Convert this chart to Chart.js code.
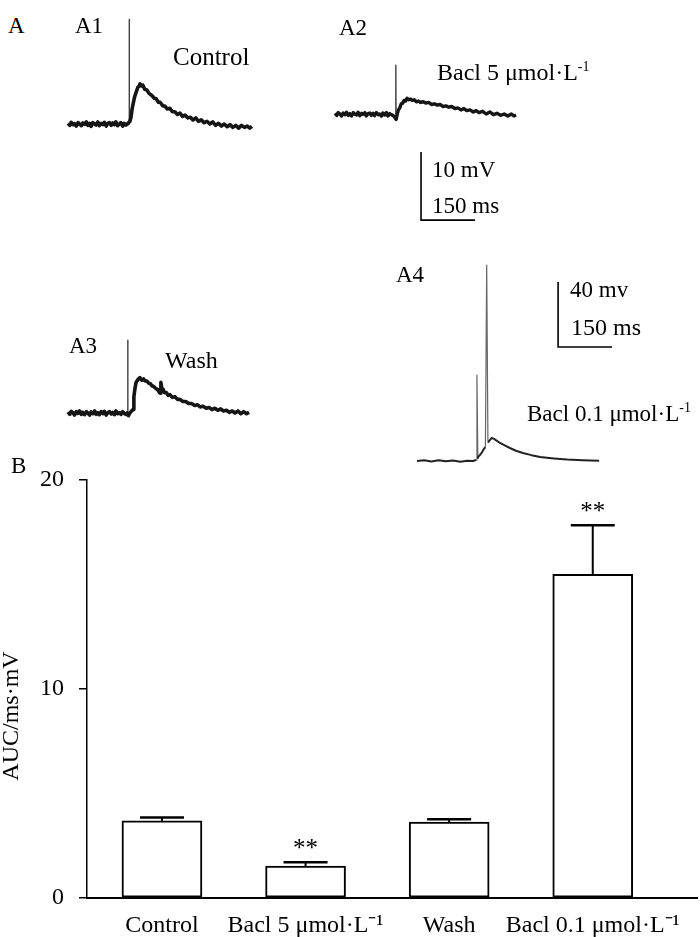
<!DOCTYPE html>
<html><head><meta charset="utf-8">
<script src="https://cdn.jsdelivr.net/npm/chart.js@4.4.0/dist/chart.umd.min.js"></script>
<style>
html,body{margin:0;padding:0;background:#fff;}
#page{position:relative;width:700px;height:937px;overflow:hidden;background:#fff;}
canvas{position:absolute;}
.t{position:absolute;font-family:'Liberation Serif','Times New Roman',serif;color:#000;line-height:1;white-space:nowrap;}
.sup{font-size:14px;line-height:0;vertical-align:9px;}
</style></head>
<body><div id="page">
<canvas id="cB" width="700" height="477" style="left:0;top:460px"></canvas>
<canvas id="cA1"></canvas>
<canvas id="cA2"></canvas>
<canvas id="cA3"></canvas>
<canvas id="cA4"></canvas>
<div class="t" style="left:8px;top:14px;font-size:23px">A</div>
<div class="t" style="left:75px;top:14px;font-size:23px">A1</div>
<div class="t" style="left:173px;top:44.1px;font-size:25px">Control</div>
<div class="t" style="left:339px;top:16px;font-size:23px">A2</div>
<div class="t" style="left:437px;top:59.9px;font-size:24px">Bacl 5 μmol·L<span class="sup">-1</span></div>
<div class="t" style="left:432px;top:157.7px;font-size:23px">10 mV</div>
<div class="t" style="left:432px;top:193.7px;font-size:23px">150 ms</div>
<div class="t" style="left:69px;top:334px;font-size:23px">A3</div>
<div class="t" style="left:165px;top:347.9px;font-size:24px">Wash</div>
<div class="t" style="left:396px;top:263px;font-size:23px">A4</div>
<div class="t" style="left:570px;top:277.7px;font-size:23px">40 mv</div>
<div class="t" style="left:571px;top:314.9px;font-size:24px">150 ms</div>
<div class="t" style="left:527px;top:401.7px;font-size:23px">Bacl 0.1 μmol·L<span class="sup">-1</span></div>
<div class="t" style="left:11px;top:454px;font-size:23px">B</div>
</div>
<script>
// ---------- Panel B data ----------
const categories = ['Control', 'Bacl 5 μmol·L⁻¹', 'Wash', 'Bacl 0.1 μmol·L⁻¹'];
const aucMean = [3.69, 1.53, 3.63, 15.49];
const aucSem = [0.16, 0.18, 0.14, 2.34];
const aucSig = ['', '**', '', '**'];
const yTicks = [0, 10, 20];
const yTitleText = 'AUC/ms·mV';

// ---------- Panel A traces (time in ms, membrane potential in mV relative to baseline) ----------
const a1T = [0,5,9,14,18,23,28,32,37,41,46,51,55,60,64,69,74,78,83,87,92,97,101,106,110,115,120,124,129,133,138,143,147,152,156,161,165,
  172,175,178,181,185,189,194,197,200,204,208,213,219,225,233,239,245,251,256,263,270,276,283,290,297,304,311,318,325,333,340,347,355,362,370,378,386,394,402,410,418,426,434,442,450,458,466,474,482,490,498,505,511];
const a1V = [0.1,-0.2,0.25,-0.1,0.05,-0.3,0.2,0.0,-0.25,0.15,-0.05,0.3,-0.2,0.1,-0.35,0.2,0.0,-0.15,0.3,-0.25,0.1,-0.1,0.25,-0.3,0.05,0.2,-0.2,0.15,-0.1,0.3,-0.25,0.0,0.2,-0.3,0.1,-0.15,0.0,
  0.4,1.0,2.2,3.0,4.0,4.6,5.4,5.5,5.9,5.6,5.7,5.1,5.0,4.5,4.2,3.8,3.7,3.2,3.2,2.7,2.6,2.2,2.3,1.8,1.8,1.4,1.6,1.1,1.3,0.9,1.0,0.6,0.9,0.4,0.6,0.2,0.4,0.0,0.3,-0.2,0.1,-0.3,0.0,-0.4,-0.1,-0.5,-0.2,-0.6,-0.2,-0.5,-0.3,-0.6,-0.35];
const a1SpikeT = [169.5, 170, 170.5];
const a1SpikeV = [0, 15.4, 0];

const a2T = [0,5,9,14,18,23,28,32,37,41,46,51,55,60,64,69,74,78,83,87,92,97,101,106,110,115,120,124,129,133,138,143,147,152,156,161,166,170,173,176,180,184,188,192,196,200,205,210,215,220,226,232,238,245,252,260,268,276,284,292,300,308,316,324,333,341,350,358,366,375,384,392,400,410,420,430,440,450,460,470,480,490,497,503];
const a2V = [0.1,-0.2,0.2,0.0,-0.3,0.15,-0.1,0.25,-0.2,0.05,-0.3,0.2,0.0,-0.15,0.25,-0.25,0.1,-0.05,0.2,-0.3,0.05,0.15,-0.2,0.1,-0.25,0.2,-0.1,0.0,-0.3,0.15,-0.15,0.2,-0.3,0.05,-0.1,-0.2,-0.5,-0.8,0.0,0.6,0.9,1.5,1.6,2.0,1.9,2.3,2.1,2.2,2.0,2.1,1.8,1.9,1.7,1.8,1.6,1.7,1.4,1.5,1.3,1.4,1.1,1.2,1.0,1.1,0.8,0.9,0.6,0.8,0.5,0.6,0.3,0.5,0.2,0.4,0.0,0.3,-0.1,0.1,-0.2,0.0,-0.3,0.0,-0.3,-0.15];
const a2SpikeT = [168.5, 169, 169.5];
const a2SpikeV = [0, 7.2, 0];

const a3T = [0,5,9,14,18,23,28,32,37,41,46,51,55,60,64,69,74,78,83,87,92,97,101,106,110,115,120,124,129,133,138,143,147,152,156,161,164,168,172,178,181,183,186,189,194,200,205,210,214,219,224,229,233,238,244,250,254,256,258,261,264,268,273,278,283,290,297,304,311,319,327,335,343,352,360,367,375,384,392,400,408,416,424,432,440,448,456,464,472,480,488,496,503];
const a3V = [0.15,-0.2,0.25,0.0,-0.3,0.2,-0.05,0.3,-0.2,0.1,-0.25,0.2,0.0,-0.3,0.15,-0.1,0.3,-0.2,0.05,-0.25,0.2,-0.1,0.25,-0.3,0.0,0.2,-0.15,0.1,-0.25,0.3,-0.1,0.05,-0.2,0.2,-0.05,-0.2,0.0,-0.4,0.0,0.4,0.5,2.4,3.6,4.5,4.9,5.2,4.8,5.0,4.7,4.7,4.4,4.3,4.0,3.9,3.6,3.4,3.0,2.9,4.5,3.4,3.5,3.0,3.0,2.6,2.7,2.3,2.4,2.0,2.0,1.7,1.7,1.4,1.4,1.1,1.2,0.9,1.0,0.7,0.8,0.5,0.7,0.4,0.6,0.3,0.4,0.1,0.3,0.0,0.3,-0.1,0.2,-0.1,0.1];
const a3SpikeT = [165.5, 166, 166.5];
const a3SpikeV = [0, 10.7, 0];

const a4T = [0,20,40,60,80,100,120,140,155,164,166.5,169,170,176,181,186,190,193.6,197,198,203,207.5,215,230.5,245,258,275,294,318,342,380,417,460,506];
const a4V = [0,0.5,-0.3,0.4,-0.2,0.3,-0.4,0.2,0,0.6,52.9,1.5,2.5,4,5.5,7.5,8.6,120.6,12,11.7,13,14.2,13.5,11.1,9.5,8.0,6.3,4.9,3.6,2.5,1.6,0.9,0.5,0.2];

// scale bars (ms, mV)
const bar1T = [239, 239, 389];
const bar1V = [-5.6, -15.6, -15.6];
const bar2T = [392, 392, 542];
const bar2V = [110.2, 70.2, 70.2];

// ---------- helpers ----------
const FONT = "'Liberation Serif','Times New Roman',serif";
function series(ts, vs, color, width, extra) {
  return Object.assign({
    data: ts.map((t, i) => ({x: t, y: vs[i]})),
    showLine: true, pointRadius: 0, borderColor: color, borderWidth: width,
    tension: 0, clip: false, borderJoinStyle: 'round', borderCapStyle: 'butt'
  }, extra || {});
}
function traceChart(id, box, origin, pxPerMs, pxPerMv, datasets) {
  const cv = document.getElementById(id);
  cv.width = box.w; cv.height = box.h;
  cv.style.left = box.l + 'px'; cv.style.top = box.t + 'px';
  new Chart(cv, {
    type: 'scatter',
    data: {datasets},
    options: {
      responsive: false, animation: false, devicePixelRatio: 1,
      layout: {padding: 0},
      plugins: {legend: {display: false}, tooltip: {enabled: false}},
      scales: {
        x: {type: 'linear', display: false, bounds: 'data',
            min: (box.l - origin.x) / pxPerMs, max: (box.l + box.w - origin.x) / pxPerMs},
        y: {type: 'linear', display: false, bounds: 'data',
            min: (origin.y - box.t - box.h) / pxPerMv, max: (origin.y - box.t) / pxPerMv}
      }
    }
  });
}
const TR = '#151515', SP = '#333';
traceChart('cA1', {l: 60, t: 8, w: 200, h: 130}, {x: 68, y: 124}, 0.36, 6.8, [
  series(a1T, a1V, TR, 3.6), series(a1SpikeT, a1SpikeV, SP, 1.3)]);
traceChart('cA2', {l: 328, t: 55, w: 200, h: 175}, {x: 335, y: 114}, 0.36, 6.8, [
  series(a2T, a2V, TR, 3.4), series(a2SpikeT, a2SpikeV, SP, 1.3), series(bar1T, bar1V, '#000', 1.6, {borderJoinStyle: 'miter'})]);
traceChart('cA3', {l: 60, t: 330, w: 200, h: 100}, {x: 68, y: 413}, 0.36, 6.8, [
  series(a3T, a3V, TR, 3.6), series(a3SpikeT, a3SpikeV, SP, 1.3)]);
traceChart('cA4', {l: 410, t: 255, w: 215, h: 215}, {x: 417, y: 461}, 0.36, 1.625, [
  series(a4T, a4V, '#222', 2, {segment: {
    borderWidth: c => (c.p0.parsed.y > 20 || c.p1.parsed.y > 20) ? 1.2 : 2,
    borderColor: c => (c.p0.parsed.y > 20 || c.p1.parsed.y > 20) ? '#666' : '#222'}}),
  series(bar2T, bar2V, '#000', 1.6, {borderJoinStyle: 'miter'})]);

// ---------- Panel B ----------
const errPlugin = {id: 'err', afterDatasetsDraw(chart) {
  const {ctx, scales: {x, y}} = chart;
  ctx.save(); ctx.strokeStyle = '#000'; ctx.fillStyle = '#000';
  aucMean.forEach((m, i) => {
    const px = x.getPixelForValue(i), y0 = y.getPixelForValue(m), y1 = y.getPixelForValue(m + aucSem[i]);
    ctx.lineWidth = 2; ctx.beginPath(); ctx.moveTo(px, y0); ctx.lineTo(px, y1); ctx.stroke();
    ctx.lineWidth = 2.5; ctx.beginPath(); ctx.moveTo(px - 22, y1); ctx.lineTo(px + 22, y1); ctx.stroke();
    if (aucSig[i]) {
      ctx.font = '25px ' + FONT; ctx.textAlign = 'center'; ctx.textBaseline = 'alphabetic';
      ctx.fillText(aucSig[i], px, y1 - 6);
    }
  });
  ctx.restore();
}};
const yTitlePlugin = {id: 'ytitle', afterDraw(chart) {
  const {ctx, chartArea} = chart;
  ctx.save();
  ctx.translate(18, (chartArea.top + chartArea.bottom) / 2 + 27);
  ctx.rotate(-Math.PI / 2);
  ctx.font = '24px ' + FONT; ctx.fillStyle = '#000';
  ctx.textAlign = 'center'; ctx.textBaseline = 'alphabetic';
  ctx.fillText(yTitleText, 0, 0);
  ctx.restore();
}};
new Chart(document.getElementById('cB'), {
  type: 'bar',
  data: {datasets: [{
    data: aucMean.map((v, i) => ({x: i, y: v})),
    backgroundColor: '#fff', borderColor: '#000', borderWidth: 2,
    borderSkipped: false, barThickness: 80
  }]},
  options: {
    responsive: false, animation: false, devicePixelRatio: 1,
    layout: {padding: {top: 20, right: 3, left: 0, bottom: 0}},
    plugins: {legend: {display: false}, tooltip: {enabled: false}},
    scales: {
      x: {type: 'linear', min: -0.522, max: 3.726, offset: false,
        afterFit(s) { s.height = 39; s.paddingLeft = 0; s.paddingRight = 0; },
        afterBuildTicks(s) { s.ticks = categories.map((c, i) => ({value: i})); },
        grid: {display: false},
        border: {display: true, color: '#000', width: 2},
        ticks: {autoSkip: false, maxRotation: 0, minRotation: 0, padding: 5, color: '#000',
          font: {family: FONT, size: 24}, callback: v => categories[v]}},
      y: {min: 0, max: 20,
        afterFit(s) { s.width = 87; s.paddingTop = 0; s.paddingBottom = 0; },
        afterBuildTicks(s) { s.ticks = yTicks.map(v => ({value: v})); },
        grid: {display: true, drawOnChartArea: false, drawTicks: true, tickLength: 8, color: '#000', lineWidth: 1.5},
        border: {display: true, color: '#000', width: 1.5},
        ticks: {padding: 15, color: '#000', font: {family: FONT, size: 24}}}
    }
  },
  plugins: [errPlugin, yTitlePlugin]
});
</script>
</body></html>
